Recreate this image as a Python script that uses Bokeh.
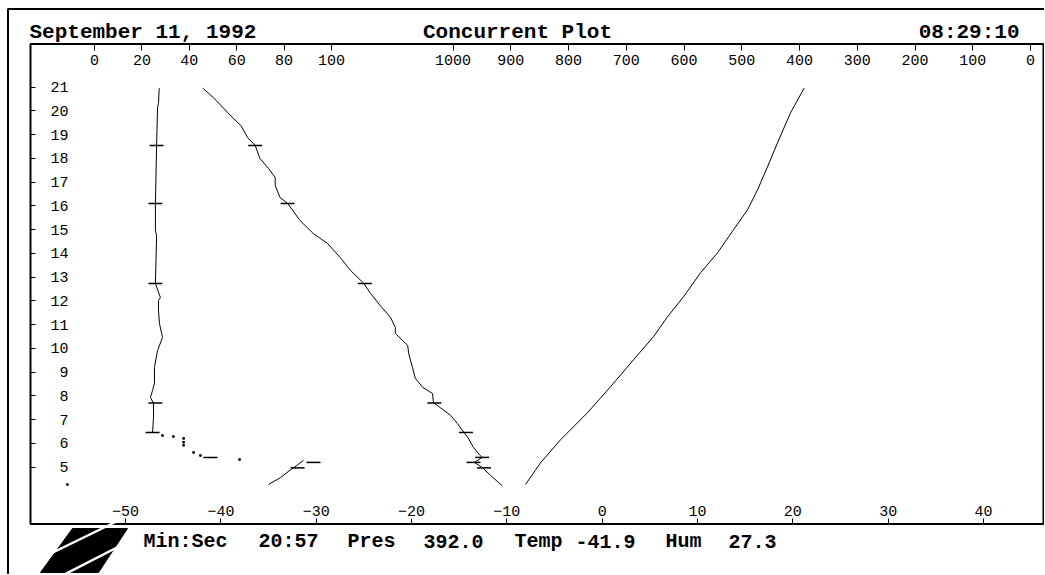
from bokeh.plotting import figure
from bokeh.models import (Range1d, LinearAxis, FixedTicker, Label,
                          BoxAnnotation, PolyAnnotation)
from bokeh.embed import file_html
from bokeh.resources import INLINE

# ---------------- data ----------------
# temperature trace (deg C) vs flight time (minutes)
temp_time = [20.95, 20.56, 20.10, 19.68, 19.38, 18.87, 18.54, 17.99, 17.57, 17.19,
             16.86, 16.35, 16.10, 15.38, 14.83, 14.41, 13.83, 13.28, 12.73, 12.31,
             11.81, 11.30, 10.88, 10.63, 10.12, 9.78, 9.20, 8.73, 8.35, 8.10,
             7.72, 7.51, 7.18, 6.84, 6.46, 6.25, 5.83, 5.49, 5.41, 5.20,
             4.99, 4.65, 4.22]
temp_c = [-41.9, -40.8, -39.7, -38.7, -37.9, -37.2, -36.4, -35.9, -35.0, -34.3,
          -34.3, -33.8, -33.0, -31.7, -30.3, -28.8, -27.5, -26.4, -25.0, -24.3,
          -23.3, -22.2, -21.7, -21.7, -20.4, -20.3, -19.9, -19.6, -18.8, -17.8,
          -17.7, -17.0, -15.9, -15.2, -14.5, -14.1, -13.5, -12.8, -12.6, -13.4,
          -12.6, -11.7, -10.5]

# humidity trace (%): upper part, sparse transition samples, lower part
hum_time = [20.95, 20.31, 20.14, 18.54, 16.10, 14.96, 14.75, 12.73, 12.14, 12.01,
            11.59, 11.05, 10.46, 9.91, 9.20, 8.53, 8.23, 7.94, 7.68, 7.09, 6.46]
hum_pct = [27.3, 27.0, 26.6, 26.2, 25.7, 25.7, 26.2, 25.7, 27.8, 27.0,
           27.0, 27.4, 28.7, 26.6, 25.3, 25.3, 24.5, 23.6, 24.9, 24.9, 24.5]
hum_dots_time = [6.33, 6.29, 6.21, 6.05, 5.92, 5.62, 5.49, 5.32]
hum_dots_pct = [28.7, 33.3, 37.6, 37.6, 37.6, 41.8, 44.7, 61.2]
hum_low_time = [5.29, 4.97, 4.89, 4.56, 4.27]
hum_low_pct = [88.2, 84.0, 82.7, 78.5, 73.4]

# pressure trace (hPa)
pres_time = [20.95, 19.91, 18.65, 17.64, 16.67, 15.83, 14.99, 14.02, 13.18, 12.17,
             11.33, 10.49, 9.52, 8.38, 7.29, 6.15, 5.18, 4.27]
pres_hpa = [392.0, 415.6, 438.1, 455.4, 472.7, 490.0, 514.3, 542.0, 571.4, 600.9,
            628.6, 652.8, 687.4, 727.3, 767.1, 813.9, 848.5, 874.5]

# event marks drawn on temperature and humidity traces
cross_time = [18.54, 16.10, 12.73, 7.70, 6.46, 5.41, 5.20, 4.97]
cross_temp = [-36.4, -33.0, -24.9, -17.6, -14.3, -12.6, -13.5, -12.4]
cross_hum = [26.2, 25.7, 25.7, 25.7, 24.5, 48.9, 92.4, 85.7]

# lone sample near the start
stray_time = [4.27]
stray_temp = [-56.1]

# tick labels
time_ticks = list(range(5, 22))
hum_ticks = [0, 20, 40, 60, 80, 100]
pres_ticks = [1000, 900, 800, 700, 600, 500, 400, 300, 200, 100, 0]
temp_ticks = [-50, -40, -30, -20, -10, 0, 10, 20, 30, 40]

# header / footer texts
date_text = "September 11, 1992"
title_text = "Concurrent Plot"
clock_text = "08:29:10"
footer_names = ["Min:Sec", "Pres", "Temp", "Hum"]
footer_values = ["20:57", "392.0", "-41.9", "27.3"]

# ---------------- screen layout helpers (pixel -> axis units) ----------------
W, H = 1044, 574


def T(px):  # temperature scale
    return (px - 601.7) / 9.533


def M(py):  # time scale
    return 21 - (py - 86.5) / 23.76


def HU(px):  # humidity scale
    return (px - 94.0) / 2.37


def PR(px):  # pressure scale (reversed)
    return (1030.0 - px) / 0.5775


p = figure(width=W, height=H, output_backend="svg", toolbar_location=None,
           x_range=Range1d(T(0), T(W)), y_range=Range1d(M(H), M(0)),
           x_axis_location=None, y_axis_location=None, title=None,
           min_border=0, min_border_left=0, min_border_right=0,
           min_border_top=0, min_border_bottom=0)
p.extra_x_ranges = {"hum": Range1d(HU(0), HU(W)), "pres": Range1d(PR(0), PR(W))}
p.grid.grid_line_color = None
p.background_fill_color = "white"
p.border_fill_color = "white"
p.outline_line_color = None

MONO = "Liberation Mono"
BOX_L, BOX_R, BOX_T, BOX_B = T(30), T(1043), M(43.5), M(523.5)

# outer screen border and plot box
p.add_layout(BoxAnnotation(left=T(7.5), right=T(1200), top=M(8.5), bottom=M(800),
                           fill_color=None, fill_alpha=0, line_color="black",
                           line_alpha=1, line_width=2))
p.add_layout(BoxAnnotation(left=BOX_L, right=BOX_R, top=BOX_T, bottom=BOX_B,
                           fill_color=None, fill_alpha=0, line_color="black",
                           line_alpha=1, line_width=2))


def mk_axis(**kw):
    ax = LinearAxis(**kw)
    ax.axis_line_color = None
    ax.major_tick_line_color = "black"
    ax.major_tick_line_width = 1
    ax.minor_tick_line_color = None
    ax.major_tick_in = 0
    ax.major_label_text_font = MONO
    ax.major_label_text_font_size = "15px"
    ax.major_label_text_color = "black"
    return ax


# time axis along the left edge of the box (two-digit and one-digit labels
# get different standoffs so that the labels line up on the right)
y_big = mk_axis(ticker=FixedTicker(ticks=[t for t in time_ticks if t >= 10]),
                fixed_location=BOX_L)
y_big.major_tick_out = 5
y_big.major_label_standoff = 15
p.add_layout(y_big, "right")
y_small = mk_axis(ticker=FixedTicker(ticks=[t for t in time_ticks if t < 10]),
                  fixed_location=BOX_L)
y_small.major_tick_out = 5
y_small.major_label_standoff = 24
p.add_layout(y_small, "right")

# humidity axis (top left)
hum_ax = mk_axis(x_range_name="hum", ticker=FixedTicker(ticks=hum_ticks),
                 fixed_location=BOX_T, bounds=(0, 100))
hum_ax.major_tick_out = 6
hum_ax.major_label_standoff = 5
p.add_layout(hum_ax, "below")

# pressure axis (top right)
pres_ax = mk_axis(x_range_name="pres", ticker=FixedTicker(ticks=pres_ticks),
                  fixed_location=BOX_T, bounds=(0, 1000))
pres_ax.major_tick_out = 6
pres_ax.major_label_standoff = 5
p.add_layout(pres_ax, "below")

# temperature axis (bottom)
temp_ax = mk_axis(ticker=FixedTicker(ticks=temp_ticks), fixed_location=BOX_B)
temp_ax.major_tick_out = 6
temp_ax.major_label_standoff = 2
p.add_layout(temp_ax, "above")

# ---------------- traces ----------------
p.line(temp_c, temp_time, line_color="black", line_width=1)
p.line(hum_pct, hum_time, x_range_name="hum", line_color="black", line_width=1)
p.line(hum_low_pct, hum_low_time, x_range_name="hum", line_color="black", line_width=1)
p.scatter(hum_dots_pct, hum_dots_time, x_range_name="hum", marker="square", size=1.6,
          color="black")
p.line(pres_hpa, pres_time, x_range_name="pres", line_color="black", line_width=1)
p.scatter(cross_temp, cross_time, marker="dash", size=14, line_color="black",
          line_width=1.5)
p.scatter(cross_hum, cross_time, x_range_name="hum", marker="dash", size=14,
          line_color="black", line_width=1.5)
p.scatter(stray_temp, stray_time, marker="square", size=1.6, color="black")

# ---------------- header / footer ----------------
hdr = dict(text_font=MONO, text_font_style="bold", text_font_size="21px",
           text_color="black", text_baseline="alphabetic")
p.add_layout(Label(x=T(29), y=M(32), text=date_text, text_align="left", **hdr))
p.add_layout(Label(x=T(517), y=M(32), text=title_text, text_align="center", **hdr))
p.add_layout(Label(x=T(1019), y=M(32), text=clock_text, text_align="right", **hdr))

ftr = dict(text_font=MONO, text_font_style="bold", text_font_size="20px",
           text_color="black", text_baseline="alphabetic", text_align="left")
name_px = [143, 347, 514, 665]
value_px = [258, 423, 575, 728]
for nx, nm in zip(name_px, footer_names):
    p.add_layout(Label(x=T(nx), y=M(541), text=nm, **ftr))
for vx, vl in zip(value_px, footer_values):
    p.add_layout(Label(x=T(vx), y=M(541), text=vl, **ftr))

# logo: black parallelogram with two white diagonal stripes
p.add_layout(PolyAnnotation(xs=[T(72), T(127), T(98), T(40)],
                            ys=[M(528), M(528), M(572), M(572)],
                            fill_color="black", fill_alpha=1, line_color="black",
                            line_alpha=1))
p.add_layout(PolyAnnotation(xs=[T(38), T(120)], ys=[M(559), M(519)],
                            fill_color=None, fill_alpha=0, line_color="white",
                            line_alpha=1, line_width=2.5))
p.add_layout(PolyAnnotation(xs=[T(58), T(132)], ys=[M(577), M(539)],
                            fill_color=None, fill_alpha=0, line_color="white",
                            line_alpha=1, line_width=2.5))

open("out.html", "w").write(file_html(p, INLINE))
